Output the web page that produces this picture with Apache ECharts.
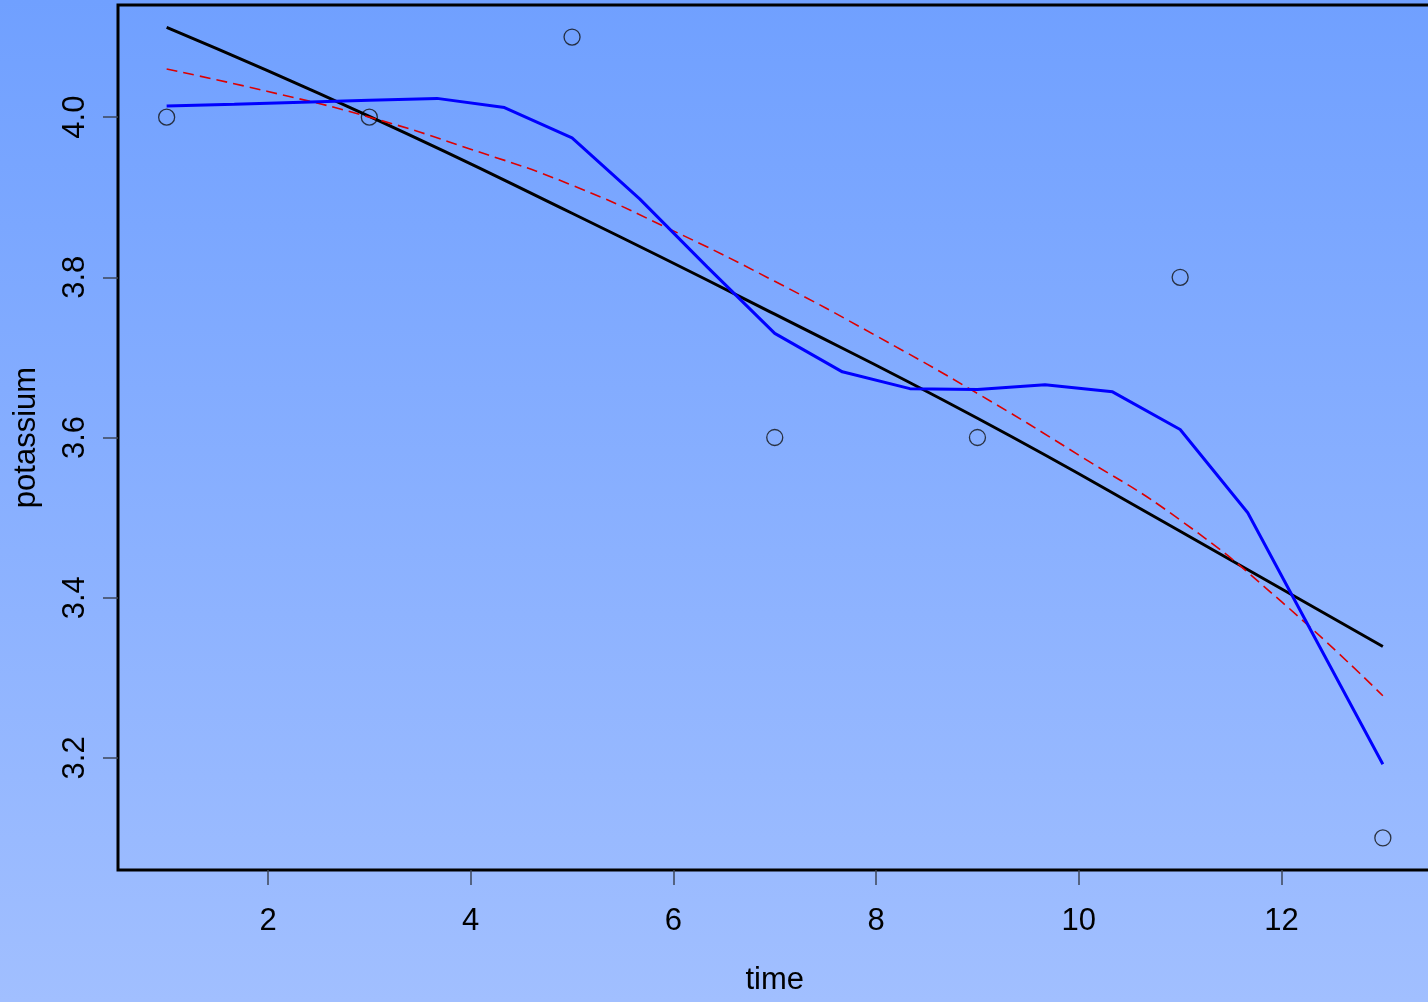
<!DOCTYPE html>
<html>
<head>
<meta charset="utf-8">
<script src="https://cdn.jsdelivr.net/npm/echarts@6/dist/echarts.min.js"></script>
<style>
html, body { margin:0; padding:0; width:1428px; height:1002px; overflow:hidden; }
#chart { width:1428px; height:1002px; background: linear-gradient(to bottom, #70a0ff 0%, #a1bfff 100%); }
</style>
</head>
<body>
<div id="chart"></div>
<script>
// Observed data points
const pointTime = [1, 3, 5, 7, 9, 11, 13];
const pointPotassium = [4.0, 4.0, 4.1, 3.6, 3.6, 3.8, 3.1];

// Fitted line (black), read along its length
const lineTime = [1, 3, 5, 7, 9, 11, 13];
const linePotassium = [4.112, 4.001, 3.880, 3.754, 3.624, 3.483, 3.339];

// Curved fit (red dashed)
const curveTime = [1, 2, 3, 4, 5, 6, 7, 8, 9, 10, 11, 12, 13];
const curvePotassium = [4.06, 4.032, 4.0, 3.96, 3.915, 3.858, 3.795, 3.727, 3.655, 3.578, 3.497, 3.395, 3.2775];

// Smoothed line (blue)
const smoothTime = [1, 1.667, 2.333, 3, 3.667, 4.333, 5, 5.667, 6.333, 7, 7.667, 8.333, 9, 9.667, 10.333, 11, 11.667, 12.333, 13];
const smoothPotassium = [4.014, 4.016, 4.0185, 4.021, 4.0234, 4.012, 3.974, 3.898, 3.813, 3.730, 3.682, 3.661, 3.660, 3.666, 3.657, 3.610, 3.506, 3.349, 3.192];

// Tick labels
const xTicks = [2, 4, 6, 8, 10, 12];
const yTicks = [3.2, 3.4, 3.6, 3.8, 4.0];

const pair = (xs, ys) => xs.map((x, i) => [x, ys[i]]);
const FONT = 'Liberation Sans, Arial, Helvetica, sans-serif';
const tickStyle = { show: true, inside: false, length: 15, lineStyle: { color: '#3c4658', width: 1.5 } };

const chart = echarts.init(document.getElementById('chart'), null, { renderer: 'canvas' });
chart.setOption({
  animation: false,
  backgroundColor: 'transparent',
  grid: {
    left: 118, top: 5, width: 1313.5, height: 865,
    show: true, borderColor: '#000', borderWidth: 3, backgroundColor: 'transparent',
    containLabel: false, outerBoundsMode: 'none'
  },
  xAxis: {
    type: 'value', min: 0.52, max: 13.48,
    axisLine: { show: false },
    splitLine: { show: false },
    axisTick: Object.assign({ customValues: xTicks }, tickStyle),
    axisLabel: { customValues: xTicks, color: '#000', fontSize: 31, fontFamily: FONT, margin: 36 },
    name: 'time', nameLocation: 'middle', nameGap: 95,
    nameTextStyle: { color: '#000', fontSize: 31, fontFamily: FONT }
  },
  yAxis: {
    type: 'value', min: 3.06, max: 4.14,
    axisLine: { show: false },
    splitLine: { show: false },
    axisTick: Object.assign({ customValues: yTicks }, tickStyle),
    axisLabel: { customValues: yTicks, color: '#000', fontSize: 31, fontFamily: FONT, margin: 27, rotate: 90,
      formatter: v => Number(v).toFixed(1) },
    name: 'potassium', nameLocation: 'middle', nameGap: 76, nameRotate: 90,
    nameTextStyle: { color: '#000', fontSize: 31, fontFamily: FONT }
  },
  series: [
    {
      type: 'scatter', data: pair(pointTime, pointPotassium),
      symbol: 'circle', symbolSize: 16,
      itemStyle: { color: 'transparent', borderColor: '#111', borderWidth: 1.3 },
      z: 2
    },
    {
      type: 'line', data: pair(lineTime, linePotassium), showSymbol: false, smooth: true,
      lineStyle: { color: '#000', width: 3 }, z: 3
    },
    {
      type: 'line', data: pair(curveTime, curvePotassium), showSymbol: false, smooth: true,
      lineStyle: { color: '#dd0000', width: 1.6, type: [11, 6] }, z: 4
    },
    {
      type: 'line', data: pair(smoothTime, smoothPotassium), showSymbol: false,
      lineStyle: { color: '#0000ff', width: 3 }, z: 5
    }
  ]
});
</script>
</body>
</html>
